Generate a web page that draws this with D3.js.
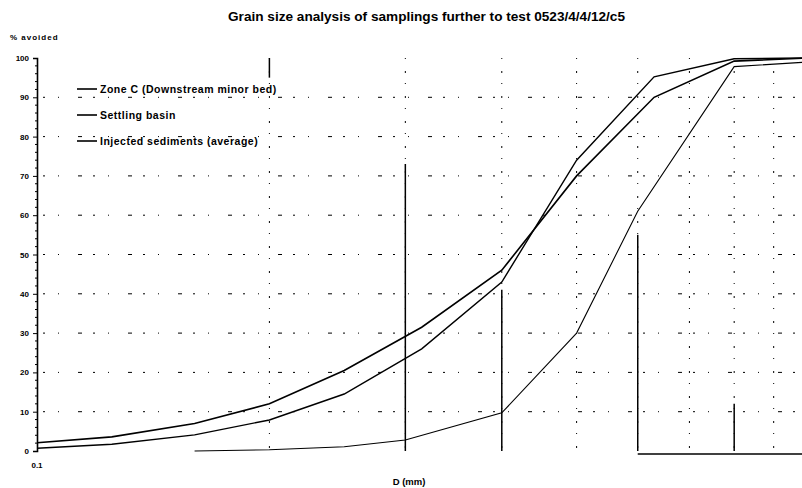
<!DOCTYPE html>
<html>
<head>
<meta charset="utf-8">
<script src="https://cdn.jsdelivr.net/npm/d3@7"></script>
<style>
  body { margin: 0; background: #fff; }
  text { font-family: "Liberation Sans", Arial, sans-serif; font-weight: bold; fill: #000; }
</style>
</head>
<body>
<svg id="chart" width="802" height="488"></svg>
<script>
// data
var titleText = 'Grain size analysis of samplings further to test 0523/4/4/12/c5';
var yLabel = '% avoided';
var xLabel = 'D (mm)';

var seriesNames = ['Zone C (Downstream minor bed)', 'Settling basin', 'Injected sediments (average)'];

var sievesA = [0.1, 0.125, 0.16, 0.2, 0.25, 0.315, 0.4, 0.5, 0.63, 0.8, 1.0];
var zoneC = [2.1, 3.6, 7.0, 12.0, 20.5, 31.5, 46, 70, 90, 99.2, 100];
var settling = [0.7, 1.7, 4.1, 7.9, 14.5, 26, 43, 74, 95.2, 99.8, 100];

var sievesB = [0.16, 0.2, 0.25, 0.3, 0.4, 0.5, 0.6, 0.8, 1.0];
var injected = [0, 0.3, 1.1, 2.8, 9.7, 30, 61, 97.8, 99];

var yTicks = [0, 10, 20, 30, 40, 50, 60, 70, 80, 90, 100];
var xTickLabels = ['0.1'];
var xGrid = [0.2, 0.3, 0.4, 0.5, 0.6, 0.7, 0.8, 0.9];

// the solid bits of grid that survive in the scan
var solidV = [
  { d: 0.2, from: 95, to: 100 },
  { d: 0.3, from: 0, to: 73 },
  { d: 0.4, from: 0, to: 41 },
  { d: 0.6, from: 0, to: 55 },
  { d: 0.8, from: 0, to: 12 }
];

var svg = d3.select('#chart');

// log axis, one decade, runs a little past the right edge of the picture
var x = d3.scaleLog().domain([0.1, 1]).range([37, 809]);
var y = d3.scaleLinear().domain([0, 100]).range([451, 58]);

svg.append('defs').append('clipPath').attr('id', 'plot')
  .append('rect').attr('x', 0).attr('y', 0).attr('width', 802).attr('height', 488);

// grid
var grid = svg.append('g').attr('class', 'grid');
grid.selectAll('line.h').data(yTicks.slice(1, -1)).enter().append('line')
  .attr('class', 'h')
  .attr('x1', x(0.1) + 6).attr('x2', 802)
  .attr('y1', function(d) { return y(d); })
  .attr('y2', function(d) { return y(d); })
  .attr('stroke', '#000').attr('stroke-width', 1)
  .attr('stroke-dasharray', '2,13,1,19,4,11');

grid.selectAll('line.v').data(xGrid).enter().append('line')
  .attr('class', 'v')
  .attr('x1', function(d) { return x(d); })
  .attr('x2', function(d) { return x(d); })
  .attr('y1', y(100)).attr('y2', y(0))
  .attr('stroke', '#000').attr('stroke-width', 1)
  .attr('stroke-dasharray', '1,12,2,10');

grid.selectAll('line.s').data(solidV).enter().append('line')
  .attr('class', 's')
  .attr('x1', function(d) { return x(d.d); })
  .attr('x2', function(d) { return x(d.d); })
  .attr('y1', function(d) { return y(d.to); })
  .attr('y2', function(d) { return y(d.from); })
  .attr('stroke', '#000').attr('stroke-width', 1.5);

// bottom axis piece on the right
grid.append('line')
  .attr('x1', x(0.6)).attr('x2', 802)
  .attr('y1', y(0) + 3).attr('y2', y(0) + 3)
  .attr('stroke', '#000').attr('stroke-width', 1.5);

// y axis
var yAxis = d3.axisLeft(y).tickValues(yTicks).tickSize(4).tickPadding(4);
var ya = svg.append('g').attr('transform', 'translate(' + x(0.1) + ',0)').call(yAxis);
ya.select('.domain').attr('stroke-width', 1.6);
ya.selectAll('text').style('font-size', '8px').style('font-family', '"Liberation Sans", Arial, sans-serif');

// minor ticks on the y axis
ya.selectAll('line.minor').data(d3.range(2, 100, 2).filter(function(v) { return v % 10; }))
  .enter().append('line')
  .attr('class', 'minor')
  .attr('x1', -2).attr('x2', 0)
  .attr('y1', function(d) { return y(d); })
  .attr('y2', function(d) { return y(d); })
  .attr('stroke', '#000').attr('stroke-width', 1);

// x tick label
svg.selectAll('text.xt').data(xTickLabels).enter().append('text')
  .attr('class', 'xt')
  .attr('x', function(d) { return x(+d); })
  .attr('y', 468)
  .attr('text-anchor', 'middle')
  .style('font-size', '8px')
  .text(function(d) { return d; });

// curves
var line = function(xs) {
  return d3.line()
    .x(function(d, i) { return x(xs[i]); })
    .y(function(d) { return y(d); });
};

var curves = svg.append('g').attr('clip-path', 'url(#plot)');
curves.append('path').datum(zoneC)
  .attr('d', line(sievesA))
  .attr('fill', 'none').attr('stroke', '#000').attr('stroke-width', 1.6);
curves.append('path').datum(settling)
  .attr('d', line(sievesA))
  .attr('fill', 'none').attr('stroke', '#000').attr('stroke-width', 1.4);
curves.append('path').datum(injected)
  .attr('d', line(sievesB))
  .attr('fill', 'none').attr('stroke', '#000').attr('stroke-width', 1.1);

// legend
var legend = svg.append('g').attr('transform', 'translate(77,89)');
var items = legend.selectAll('g').data(seriesNames).enter().append('g')
  .attr('transform', function(d, i) { return 'translate(0,' + (i * 26) + ')'; });
items.append('line')
  .attr('x1', 0).attr('x2', 20).attr('y1', 0).attr('y2', 0)
  .attr('stroke', '#000').attr('stroke-width', 1.6);
items.append('text')
  .attr('x', 23).attr('y', 3.5)
  .style('font-size', '10.5px')
  .style('letter-spacing', '0.5px')
  .text(function(d) { return d; });

// titles
svg.append('text')
  .attr('x', 228).attr('y', 21)
  .attr('textLength', 397)
  .attr('lengthAdjust', 'spacingAndGlyphs')
  .style('font-size', '12px')
  .text(titleText);

svg.append('text')
  .attr('x', 10).attr('y', 40)
  .style('font-size', '8px')
  .style('letter-spacing', '1px')
  .text(yLabel);

svg.append('text')
  .attr('x', 409).attr('y', 485)
  .attr('text-anchor', 'middle')
  .style('font-size', '9.5px')
  .text(xLabel);
</script>
</body>
</html>
